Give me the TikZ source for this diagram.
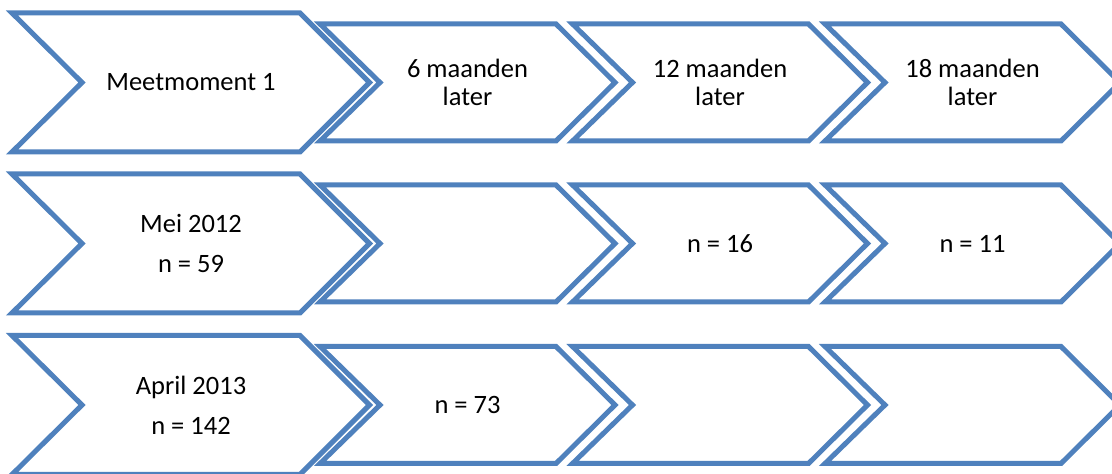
\documentclass[tikz,border=0pt]{standalone}
\usepackage{fontspec}
\setmainfont{Carlito}
\usepackage{tikz}
\definecolor{officeblue}{HTML}{4F81BD}
\tikzset{
  arrowbox/.style={draw=officeblue, line width=5pt, fill=white, line join=miter},
  steplabel/.style={align=center, font=\fontsize{26.5}{28}\selectfont}
}

\begin{document}
\begin{tikzpicture}[x=1pt,y=1pt]
    \clip (0,0) rectangle (1112,474);
    % row 1: the heading row
    \begin{scope}[shift={(0,391.5)}]
      \draw[arrowbox] (12,69.5) -- (300,69.5) -- (369.5,0) -- (300,-69.5) -- (12,-69.5) -- (82,0) -- cycle;
      \draw[arrowbox] (320,58.5) -- (556,58.5) -- (615,0) -- (556,-58.5) -- (320,-58.5) -- (380,0) -- cycle;
      \draw[arrowbox] (572.5,58.5) -- (808.5,58.5) -- (867.5,0) -- (808.5,-58.5) -- (572.5,-58.5) -- (632.5,0) -- cycle;
      \draw[arrowbox] (825,58.5) -- (1061,58.5) -- (1120,0) -- (1061,-58.5) -- (825,-58.5) -- (885,0) -- cycle;
      \node[steplabel] (meet) at (191,0) {Meetmoment 1};
      \node[steplabel] (later6) at (467.5,0) {6 maanden\\later};
      \node[steplabel] (later12) at (720,0) {12 maanden\\later};
      \node[steplabel] (later18) at (972.5,0) {18 maanden\\later};
    \end{scope}
    % row 2: mei 2012
    \begin{scope}[shift={(0,230.5)}]
      \draw[arrowbox] (12,69.5) -- (300,69.5) -- (369.5,0) -- (300,-69.5) -- (12,-69.5) -- (82,0) -- cycle;
      \draw[arrowbox] (320,58.5) -- (556,58.5) -- (615,0) -- (556,-58.5) -- (320,-58.5) -- (380,0) -- cycle;
      \draw[arrowbox] (572.5,58.5) -- (808.5,58.5) -- (867.5,0) -- (808.5,-58.5) -- (572.5,-58.5) -- (632.5,0) -- cycle;
      \draw[arrowbox] (825,58.5) -- (1061,58.5) -- (1120,0) -- (1061,-58.5) -- (825,-58.5) -- (885,0) -- cycle;
      \node[steplabel] (mei) at (191,0) {Mei 2012\\[12pt]n = 59};
      \node[steplabel] (mei12) at (720,0) {n = 16};
      \node[steplabel] (mei18) at (972.5,0) {n = 11};
    \end{scope}
    % row 3: april 2013
    \begin{scope}[shift={(0,69)}]
      \draw[arrowbox] (12,69.5) -- (300,69.5) -- (369.5,0) -- (300,-69.5) -- (12,-69.5) -- (82,0) -- cycle;
      \draw[arrowbox] (320,58.5) -- (556,58.5) -- (615,0) -- (556,-58.5) -- (320,-58.5) -- (380,0) -- cycle;
      \draw[arrowbox] (572.5,58.5) -- (808.5,58.5) -- (867.5,0) -- (808.5,-58.5) -- (572.5,-58.5) -- (632.5,0) -- cycle;
      \draw[arrowbox] (825,58.5) -- (1061,58.5) -- (1120,0) -- (1061,-58.5) -- (825,-58.5) -- (885,0) -- cycle;
      \node[steplabel] (april) at (191,0) {April 2013\\[12pt]n = 142};
      \node[steplabel] (april6) at (467.5,0) {n = 73};
    \end{scope}
  \end{tikzpicture}
\end{document}
